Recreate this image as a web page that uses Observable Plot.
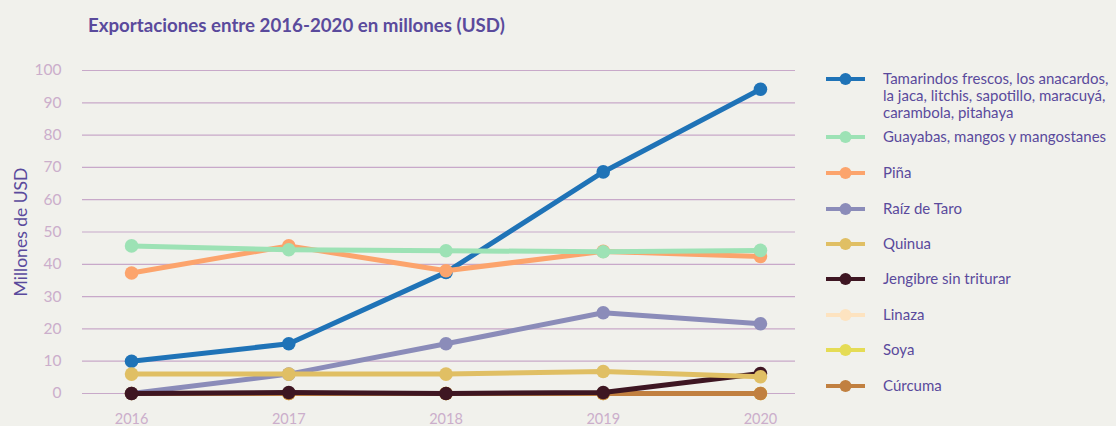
<!DOCTYPE html>
<html><head><meta charset="utf-8">
<script src="https://cdn.jsdelivr.net/npm/d3@7"></script>
<script src="https://cdn.jsdelivr.net/npm/@observablehq/plot@0.6"></script>
<style>
html,body{margin:0;padding:0;background:#f1f1ec;}
#wrap{position:relative;width:1116px;height:426px;overflow:hidden;font-family:Lato,"Open Sans",sans-serif;}
#title{position:absolute;left:88px;top:14px;font-size:18.7px;font-weight:700;color:#5a4a9c;white-space:nowrap;}
#chart{position:absolute;left:0;top:0;}
#legend{position:absolute;left:826px;top:0;width:290px;}
.item{position:absolute;left:0;display:flex;align-items:flex-start;}
.item svg{flex:none;}
.item span{margin-left:18px;font-size:15px;line-height:17px;color:#5a4a9c;white-space:nowrap;}
</style></head>
<body><div id="wrap"><div id="title">Exportaciones entre 2016-2020 en millones (USD)</div><div id="chart"></div><div id="legend"></div></div>
<script>
const years = [2016, 2017, 2018, 2019, 2020];
const seriesNames = [
  "Tamarindos frescos, los anacardos, la jaca, litchis, sapotillo, maracuyá, carambola, pitahaya",
  "Guayabas, mangos y mangostanes",
  "Piña",
  "Raíz de Taro",
  "Quinua",
  "Jengibre sin triturar",
  "Linaza",
  "Soya",
  "Cúrcuma"
];
const legendLines = [
  ["Tamarindos frescos, los anacardos,", "la jaca, litchis, sapotillo, maracuyá,", "carambola, pitahaya"],
  ["Guayabas, mangos y mangostanes"],
  ["Piña"],
  ["Raíz de Taro"],
  ["Quinua"],
  ["Jengibre sin triturar"],
  ["Linaza"],
  ["Soya"],
  ["Cúrcuma"]
];
const colors = ["#1f73b7", "#9de2b5", "#fca46c", "#8b8cb9", "#e0bf64", "#3e1622", "#fde3c0", "#e5dc55", "#c18040"];
const tamarindos = [10, 15.4, 37.5, 68.6, 94.2];
const guayabas = [45.7, 44.5, 44.2, 43.9, 44.3];
const pina = [37.3, 45.7, 38, 44, 42.4];
const taro = [0, 6, 15.4, 25, 21.6];
const quinua = [6, 6, 6, 6.8, 5.2];
const jengibre = [0, 0.3, 0, 0.3, 6.2];
const linaza = [0, 0, 0, 0, 0];
const soya = [0, 0, 0, 0, 0];
const curcuma = [0, 0, 0, 0, 0];
const yTicks = [0, 10, 20, 30, 40, 50, 60, 70, 80, 90, 100];

const valuesBySeries = [tamarindos, guayabas, pina, taro, quinua, jengibre, linaza, soya, curcuma];
const data = [];
seriesNames.forEach((s, i) => years.forEach((y, j) => data.push({series: s, year: y, value: valuesBySeries[i][j]})));
// drawing order (bottom to top)
const drawOrder = ["Linaza", "Soya", "Cúrcuma", seriesNames[0], "Raíz de Taro", "Jengibre sin triturar", "Quinua", "Piña", "Guayabas, mangos y mangostanes"];

const marks = [
  Plot.ruleY(yTicks, {stroke: "#c8a9c9", strokeWidth: 1.2}),
  Plot.axisY(yTicks, {tickSize: 0, tickPadding: 21, fontSize: 15.5, fill: "#cbaecb", label: "Millones de USD", labelAnchor: "center", labelArrow: "none", labelOffset: 68}),
  Plot.axisX(years, {tickSize: 0, tickPadding: 20, fontSize: 14.5, fill: "#cbaecb", tickFormat: d => String(d), label: null})
];
for (const s of drawOrder) {
  const d = data.filter(r => r.series === s);
  marks.push(Plot.line(d, {x: "year", y: "value", stroke: "series", strokeWidth: 5}));
  marks.push(Plot.dot(d, {x: "year", y: "value", fill: "series", r: 6.8}));
}

const chart = Plot.plot({
  width: 800, height: 426,
  marginLeft: 82, marginRight: 5, marginTop: 70, marginBottom: 33,
  style: {background: "transparent", fontFamily: "Lato, 'Open Sans', sans-serif", overflow: "visible"},
  x: {type: "linear", domain: [2015.688, 2020.223]},
  y: {domain: [0, 100]},
  color: {domain: seriesNames, range: colors},
  marks
});
chart.querySelectorAll('[aria-label="y-axis label"] text, [aria-label="y-axis label"]').forEach(e => {
  e.setAttribute("fill", "#5a4a9c"); e.style.fontSize = "17.5px";
});
document.getElementById("chart").appendChild(chart);

const legendY = [79, 137, 173, 209, 244, 279, 315, 350, 386];
const legend = document.getElementById("legend");
seriesNames.forEach((s, i) => {
  const it = document.createElement("div");
  it.className = "item";
  it.style.top = (legendY[i] - 9) + "px";
  it.innerHTML = `<svg width="39" height="18"><line x1="0" x2="39" y1="9" y2="9" stroke="${colors[i]}" stroke-width="4"/><circle cx="19.5" cy="9" r="6" fill="${colors[i]}"/></svg><span>${legendLines[i].join("<br>")}</span>`;
  legend.appendChild(it);
});
</script></body></html>
